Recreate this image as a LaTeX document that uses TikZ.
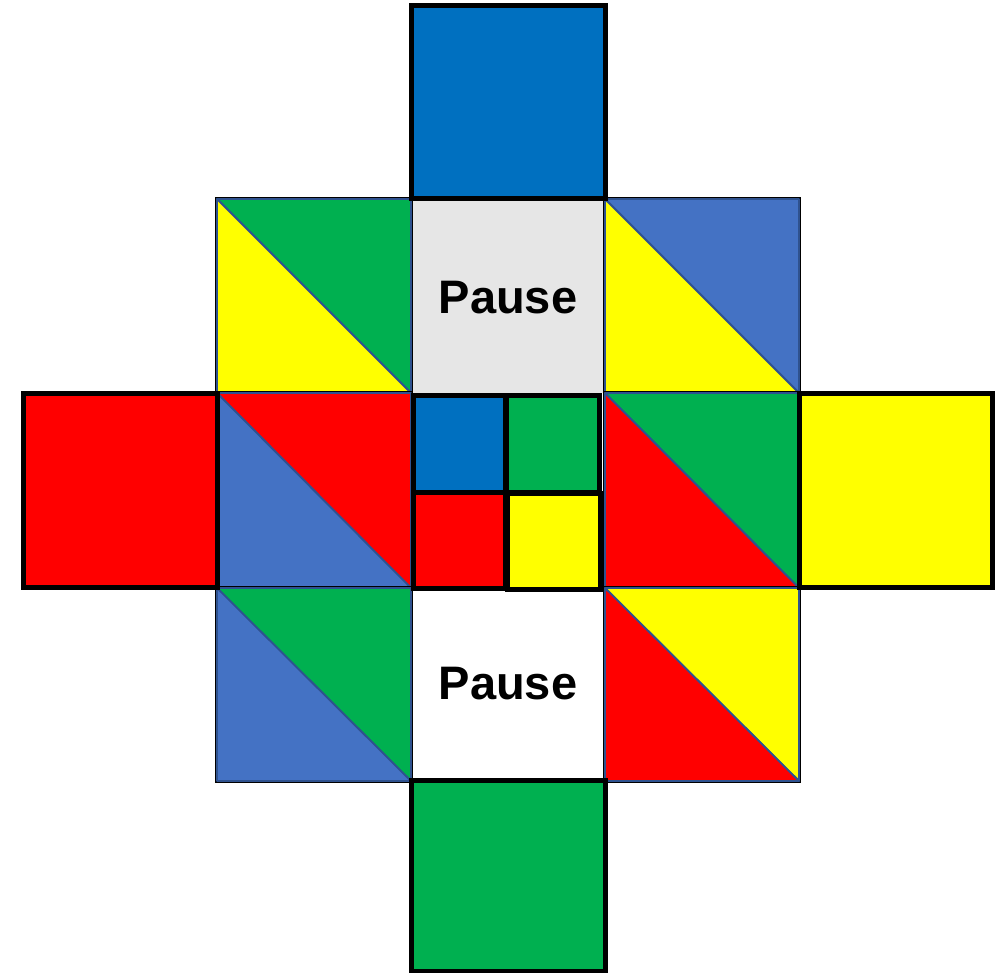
\documentclass[tikz,border=0pt]{standalone}
\usepackage{fontspec}
\setmainfont{Liberation Sans}
\definecolor{cblue}{HTML}{0070C0}
\definecolor{cgreen}{HTML}{00B050}
\definecolor{cred}{HTML}{FF0000}
\definecolor{cyellow}{HTML}{FFFF00}
\definecolor{tblue}{HTML}{4472C4}
\definecolor{tline}{HTML}{2F528F}
\definecolor{pgray}{HTML}{E6E6E6}
\tikzset{
  thick box/.style={draw=black, line width=2.5pt},
  tri/.style={draw=tline, line width=0.9pt, line join=round},
  outerbox/.style={draw=black, line width=2.2pt},
  pausetext/.style={font=\bfseries\fontsize{23.5}{26}\selectfont, text=black}
}
\newcommand{\trisq}[6]{% x1 y1 x2 y2 upper-right-colour lower-left-colour
  \draw[outerbox] (#1,#2) rectangle (#3,#4);
  \filldraw[tri, fill=#5] (#1,#2) -- (#3,#2) -- (#3,#4) -- cycle;
  \filldraw[tri, fill=#6] (#1,#2) -- (#1,#4) -- (#3,#4) -- cycle;
}
\begin{document}
\begin{tikzpicture}[x=0.5pt,y=-0.5pt]
\useasboundingbox (0,0) rectangle (998,973);
% pause boxes
\fill[pgray] (411,199) rectangle (605,393);
\draw[draw=black!75, line width=0.6pt, fill=white] (411,588) rectangle (605,781);
% triangle squares
\trisq{217}{199}{411}{393}{cgreen}{cyellow}
\trisq{605}{199}{799}{393}{tblue}{cyellow}
\trisq{217}{393}{411}{588}{cred}{tblue}
\trisq{605}{393}{799}{588}{cgreen}{cred}
\trisq{217}{588}{411}{781}{cgreen}{tblue}
\trisq{605}{588}{799}{781}{cyellow}{cred}
% arm squares
\filldraw[thick box, fill=cblue] (411,6) rectangle (605,199);
\filldraw[thick box, fill=cred] (23.5,393.5) rectangle (217,587.5);
\filldraw[thick box, fill=cyellow] (799,393.5) rectangle (992.5,587.5);
\filldraw[thick box, fill=cgreen] (411,781) rectangle (605,971);
% centre squares
\filldraw[thick box, fill=cblue] (413.5,396) rectangle (505,493);
\filldraw[thick box, fill=cgreen] (506,396) rectangle (599,493);
\filldraw[thick box, fill=cred] (413.5,493) rectangle (505,588.5);
\filldraw[thick box, fill=cyellow] (507,494) rectangle (600.5,590);
% texts
\node[pausetext] (p1) at (508,298) {Pause};
\node[pausetext] (p2) at (508,684) {Pause};
\end{tikzpicture}
\end{document}
